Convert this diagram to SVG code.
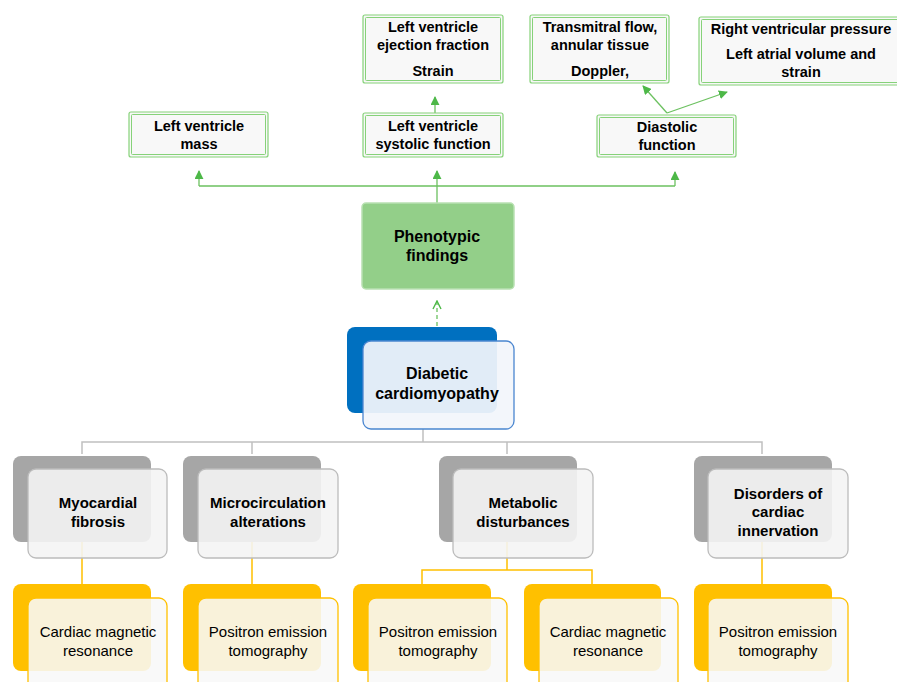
<svg xmlns="http://www.w3.org/2000/svg" width="897" height="682" viewBox="0 0 897 682">
<defs>
<marker id="ah" viewBox="0 0 10 10" refX="9" refY="5" markerWidth="9" markerHeight="9" markerUnits="userSpaceOnUse" orient="auto"><path d="M0,0 L10,5 L0,10 z" fill="#4db848"/></marker>
<marker id="ao" viewBox="0 0 10 10" refX="9" refY="5" markerWidth="10" markerHeight="10" markerUnits="userSpaceOnUse" orient="auto"><path d="M1,1 L9,5 L1,9" fill="none" stroke="#4db848" stroke-width="1.4"/></marker>
</defs>
<style>
text{font-family:"Liberation Sans",Arial,sans-serif;text-anchor:middle;fill:#000}
.b{font-weight:bold;font-size:14.5px}
.bb{font-weight:bold;font-size:16px}
.g{font-weight:bold;font-size:15px}
.r{font-size:15px}
.to{fill:#f8f8f8;stroke:#86d279;stroke-width:1.2}
.ti{fill:none;stroke:#86d279;stroke-width:1}
.gl{fill:none;stroke:#6cc160;stroke-width:1.3}
.gb{fill:#a6a6a6}
.gf{fill:#f4f4f4;fill-opacity:0.9;stroke:#bcbcbc;stroke-width:1.3}
.yb{fill:#ffc000}
.yf{fill:#f8f8f8;fill-opacity:0.88;stroke:#ffc000;stroke-width:1.3}
.gc{fill:none;stroke:#c0c0c0;stroke-width:1.5}
.yc{fill:none;stroke:#ffc000;stroke-width:1.5}
</style>
<g id="connectors">
<path class="gl" d="M437,203 V186 M199,186 H675" />
<path class="gl" d="M199,186 V171" marker-end="url(#ah)"/>
<path class="gl" d="M437,186 V171" marker-end="url(#ah)"/>
<path class="gl" d="M675,186 V172" marker-end="url(#ah)"/>
<path class="gl" d="M435,113 V97" marker-end="url(#ah)"/>
<path class="gl" d="M667,113 L643,86" marker-end="url(#ah)"/>
<path class="gl" d="M667,113 L727,92" marker-end="url(#ah)"/>
<path class="gl" d="M437,326 V301" stroke-dasharray="4,3" marker-end="url(#ao)"/>
<path class="gc" d="M423,429 V442 M82,454 V442 H762 V454 M252,442 V454 M507,442 V454"/>
<path class="yc" d="M82,542 V584 M252,542 V584 M762,542 V584 M507,542 V570 M422,584 V570 H592 V584"/>
</g>
<g id="lv-mass"><rect class="to" x="129" y="112" width="139" height="45" rx="2"/><rect class="ti" x="131.5" y="114.5" width="134" height="40" rx="1"/><text class="b" x="199" y="131">Left ventricle</text><text class="b" x="199" y="149">mass</text></g>
<g id="lv-ef"><rect class="to" x="363" y="15" width="140" height="68" rx="2"/><rect class="ti" x="365.5" y="17.5" width="135" height="63" rx="1"/><text class="b" x="433" y="32">Left ventricle</text><text class="b" x="433" y="50">ejection fraction</text><text class="b" x="433" y="76">Strain</text></g>
<g id="lv-systolic"><rect class="to" x="363" y="113" width="140" height="44" rx="2"/><rect class="ti" x="365.5" y="115.5" width="135" height="39" rx="1"/><text class="b" x="433" y="131">Left ventricle</text><text class="b" x="433" y="149">systolic function</text></g>
<g id="transmitral"><rect class="to" x="530" y="15" width="139" height="68" rx="2"/><rect class="ti" x="532.5" y="17.5" width="134" height="63" rx="1"/><text class="b" x="600" y="32">Transmitral flow,</text><text class="b" x="600" y="50">annular tissue</text><text class="b" x="600" y="76">Doppler,</text></g>
<g id="rv-pressure"><rect class="to" x="699" y="17" width="206" height="68" rx="2"/><rect class="ti" x="701.5" y="19.5" width="201" height="63" rx="1"/><text class="b" x="801" y="34">Right ventricular pressure</text><text class="b" x="801" y="59">Left atrial volume and</text><text class="b" x="801" y="77">strain</text></g>
<g id="diastolic"><rect class="to" x="597" y="115" width="139" height="42" rx="2"/><rect class="ti" x="599.5" y="117.5" width="134" height="37" rx="1"/><text class="b" x="667" y="132">Diastolic</text><text class="b" x="667" y="150">function</text></g>
<g id="phenotypic"><rect x="362" y="203" width="152" height="86" rx="4" fill="#93cf89" stroke="#b9e1b2" stroke-width="1.5"/><text class="bb" x="437" y="242">Phenotypic</text><text class="bb" x="437" y="261">findings</text></g>
<g id="diabetic"><rect x="347" y="327" width="150" height="86" rx="8" fill="#0070c0"/><rect x="363" y="341" width="151" height="88" rx="8" fill="#f2f5fb" fill-opacity="0.93" stroke="#4a86d0" stroke-width="1.3"/><text class="bb" x="437" y="379">Diabetic</text><text class="bb" x="437" y="399">cardiomyopathy</text></g>
<g id="myocardial"><rect class="gb" x="13" y="456" width="138" height="86" rx="8"/><rect class="gf" x="28" y="469" width="139" height="89" rx="8"/><text class="g" x="98" y="508">Myocardial</text><text class="g" x="98" y="527">fibrosis</text></g>
<g id="microcirculation"><rect class="gb" x="183" y="456" width="138" height="86" rx="8"/><rect class="gf" x="198" y="469" width="140" height="89" rx="8"/><text class="g" x="268" y="508">Microcirculation</text><text class="g" x="268" y="527">alterations</text></g>
<g id="metabolic"><rect class="gb" x="439" y="456" width="138" height="86" rx="8"/><rect class="gf" x="453" y="469" width="140" height="89" rx="8"/><text class="g" x="523" y="508">Metabolic</text><text class="g" x="523" y="527">disturbances</text></g>
<g id="innervation"><rect class="gb" x="694" y="456" width="138" height="86" rx="8"/><rect class="gf" x="708" y="469" width="140" height="89" rx="8"/><text class="g" x="778" y="499">Disorders of</text><text class="g" x="778" y="517">cardiac</text><text class="g" x="778" y="536">innervation</text></g>
<g id="cmr-1"><rect class="yb" x="13" y="584" width="138" height="87" rx="8"/><rect class="yf" x="28" y="598" width="139" height="95" rx="8"/><text class="r" x="98" y="637">Cardiac magnetic</text><text class="r" x="98" y="656">resonance</text></g>
<g id="pet-1"><rect class="yb" x="183" y="584" width="138" height="87" rx="8"/><rect class="yf" x="198" y="598" width="140" height="95" rx="8"/><text class="r" x="268" y="637">Positron emission</text><text class="r" x="268" y="656">tomography</text></g>
<g id="pet-2"><rect class="yb" x="353" y="584" width="138" height="87" rx="8"/><rect class="yf" x="368" y="598" width="139" height="95" rx="8"/><text class="r" x="438" y="637">Positron emission</text><text class="r" x="438" y="656">tomography</text></g>
<g id="cmr-2"><rect class="yb" x="524" y="584" width="137" height="87" rx="8"/><rect class="yf" x="539" y="598" width="139" height="95" rx="8"/><text class="r" x="608" y="637">Cardiac magnetic</text><text class="r" x="608" y="656">resonance</text></g>
<g id="pet-3"><rect class="yb" x="694" y="584" width="138" height="87" rx="8"/><rect class="yf" x="708" y="598" width="140" height="95" rx="8"/><text class="r" x="778" y="637">Positron emission</text><text class="r" x="778" y="656">tomography</text></g>
</svg>
